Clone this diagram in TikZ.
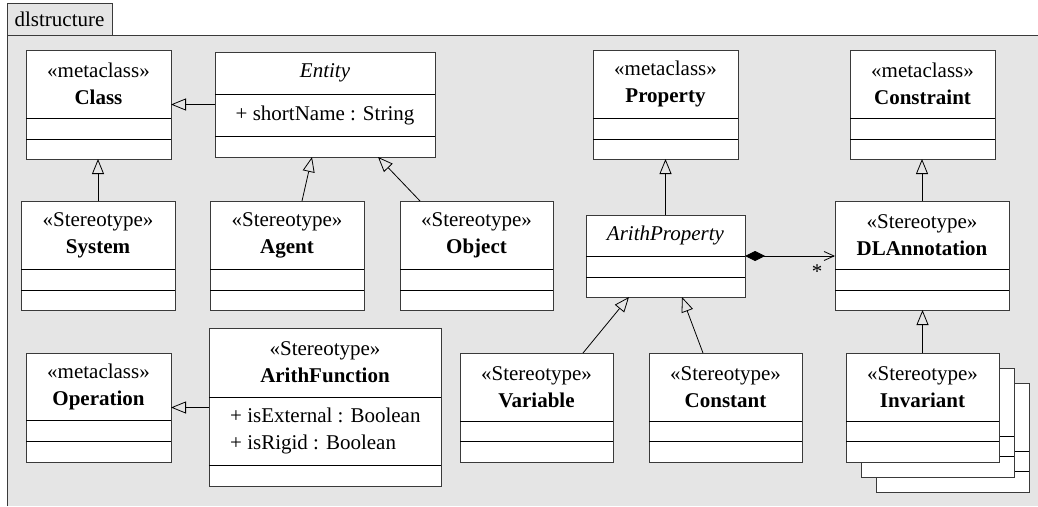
\documentclass[tikz,border=0pt]{standalone}
\usepackage{fontspec}
\setmainfont{Liberation Serif}
\usetikzlibrary{arrows.meta}
\definecolor{pkgfill}{HTML}{E5E5E5}
\definecolor{boxline}{HTML}{3A3A3A}

% UML class box: name, x1, y1, x2, y2, divider 1, divider 2, header text
\newcommand{\umlclassbox}[8]{%
  \pgfmathsetmacro\ubW{#4-#2}%
  \pgfmathsetmacro\ubH{#5-#3}%
  \node[classbox, minimum width=\ubW pt, minimum height=\ubH pt] (#1) at ({(#2+#4)/2},{(#3+#5)/2}) {};
  \draw[divider] (#2,#6) -- (#4,#6);
  \draw[divider] (#2,#7) -- (#4,#7);
  \node[headtext] (#1-head) at ({(#2+#4)/2},{(#3+#6)/2}) {#8};
}

\begin{document}
\begin{tikzpicture}[x=1pt,y=-1pt,
  classbox/.style={rectangle, draw=boxline, line width=1pt, fill=white, inner sep=0pt, outer sep=0pt},
  divider/.style={draw=black, line width=0.9pt},
  headtext/.style={inner sep=0pt, align=center, font=\fontsize{21}{27}\selectfont},
  attrtext/.style={inner sep=0pt, align=left, font=\fontsize{21}{27}\selectfont},
  gen/.style={draw=black, line width=0.8pt, -{Triangle[open, length=15pt, width=12pt]}},
  comp/.style={draw=black, line width=0.8pt, {Diamond[length=20pt, width=10pt]}-{Straight Barb[length=10pt, width=9pt]}},
]
\useasboundingbox (0,0) rectangle (1038,506);

% package frame and its name tab
\fill[pkgfill] (7,35) rectangle (1038,506);
\draw[boxline, line width=1pt] (7,506) -- (7,35) -- (1038,35);
\node[rectangle, draw=boxline, line width=1pt, fill=pkgfill, minimum width=105pt, minimum height=32pt, inner sep=0pt] (tab) at (59.5,19) {};
\node[headtext] (tablabel) at (59.5,19) {dlstructure};

% top row
\umlclassbox{cls}{26}{50}{171}{159}{118}{139}{«metaclass»\\\textbf{Class}}
\umlclassbox{ent}{215}{52}{435}{157}{94}{136}{\textit{Entity}}
\node[attrtext] (ent-attr) at (325,115) {+ shortName : String};
\umlclassbox{prop}{593}{50}{738}{159}{118}{139}{«metaclass»\\\textbf{Property}}
\umlclassbox{cons}{850}{50}{995}{159}{118}{139}{«metaclass»\\\textbf{Constraint}}

% middle row
\umlclassbox{sys}{21}{201}{175}{310}{269}{290}{«Stereotype»\\\textbf{System}}
\umlclassbox{agent}{210}{201}{364}{310}{269}{290}{«Stereotype»\\\textbf{Agent}}
\umlclassbox{obj}{400}{201}{553}{310}{269}{290}{«Stereotype»\\\textbf{Object}}
\umlclassbox{arithp}{586}{215}{745}{297}{256}{277}{\textit{ArithProperty}}
\umlclassbox{dla}{835}{201}{1009}{310}{269}{290}{«Stereotype»\\\textbf{DLAnnotation}}

% bottom row
\umlclassbox{op}{26}{353}{171}{462}{420}{441}{«metaclass»\\\textbf{Operation}}
\umlclassbox{af}{209}{328}{441}{486}{397}{465}{«Stereotype»\\\textbf{ArithFunction}}
\node[attrtext, anchor=west] (af-attr) at (230,431) {+ isExternal : Boolean\\+ isRigid : Boolean};
\umlclassbox{var}{460}{353}{613}{462}{421}{441}{«Stereotype»\\\textbf{Variable}}
\umlclassbox{const}{649}{353}{802}{462}{421}{441}{«Stereotype»\\\textbf{Constant}}

% multi-instance stack of Invariant
\umlclassbox{inv3}{876}{383}{1029}{492}{451}{471}{}
\umlclassbox{inv2}{861}{368}{1014}{477}{436}{456}{}
\umlclassbox{inv}{846}{353}{999}{462}{421}{441}{«Stereotype»\\\textbf{Invariant}}

% generalizations
\draw[gen] (ent.west) -- (ent.west -| cls.east);
\draw[gen] (sys.north) -- (sys.north |- cls.south);
\draw[gen] ([xshift=15pt]agent.north) -- ([xshift=-13pt]ent.south);
\draw[gen] ([xshift=-56.5pt]obj.north) -- ([xshift=53pt]ent.south);
\draw[gen] (arithp.north) -- (arithp.north |- prop.south);
\draw[gen] (dla.north) -- (dla.north |- cons.south);
\draw[gen] (inv.north) -- (inv.north |- dla.south);
\draw[gen] (af.west |- op.east) -- (op.east);
\draw[gen] ([xshift=46.5pt]var.north) -- ([xshift=-36.5pt]arithp.south);
\draw[gen] ([xshift=-22.5pt]const.north) -- ([xshift=16.5pt]arithp.south);

% composition with multiplicity
\draw[comp] (arithp.east) -- (arithp.east -| dla.west);
\node[headtext] (mult) at (817,271.5) {*};
\end{tikzpicture}
\end{document}
